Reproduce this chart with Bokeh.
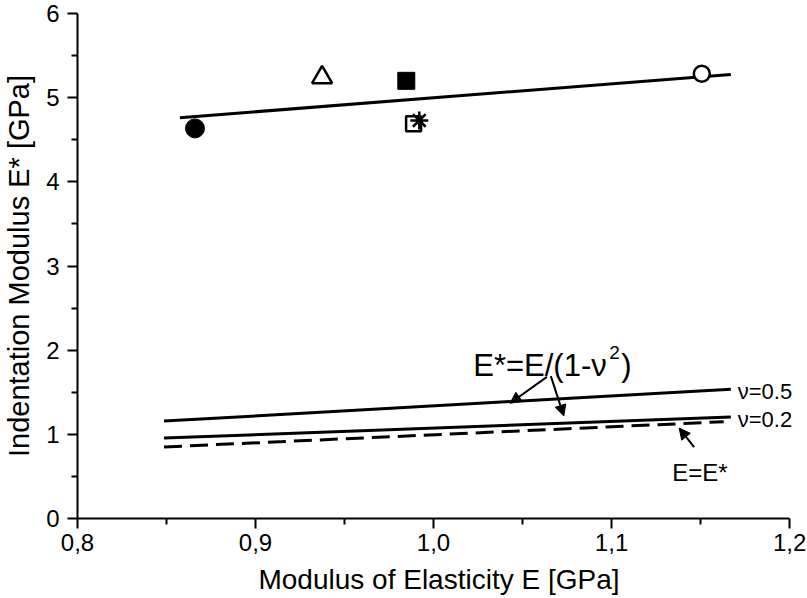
from bokeh.plotting import figure
from bokeh.models import (Range1d, FixedTicker, CustomJSTickFormatter,
                          Arrow, NormalHead, Label)
from bokeh.embed import file_html
from bokeh.resources import INLINE

# ---- data ----
point_E = [0.866, 0.9374, 0.9847, 0.9888, 0.992, 1.1507]
point_Estar = [4.635, 5.24, 5.20, 4.69, 4.73, 5.284]
point_marker = ["circle", "triangle", "square", "square", "asterisk", "circle"]
point_filled = [True, False, True, False, False, False]
point_size = [19, 20, 17, 15, 18, 16]

fit_E = [0.8575, 1.167]
fit_Estar = [4.762, 5.276]

nu05_E = [0.8486, 1.167]
nu05_Estar = [1.157, 1.537]
nu02_E = [0.8486, 1.167]
nu02_Estar = [0.955, 1.205]
eq_E = [0.8486, 1.163]
eq_Estar = [0.850, 1.150]

x_ticks = [0.8, 0.9, 1.0, 1.1, 1.2]
x_minor = [0.85, 0.95, 1.05, 1.15]
y_ticks = [0, 1, 2, 3, 4, 5, 6]
y_minor = [0.5, 1.5, 2.5, 3.5, 4.5, 5.5]

x_label = "Modulus of Elasticity E [GPa]"
y_label = "Indentation Modulus E* [GPa]"

FONT = "Liberation Sans"

# frame extends a little past 1.2 so the right-hand labels fit;
# the x axis line itself stops at 1.2 via axis bounds
FRAME_RIGHT = 800
x_end = 0.8 + 0.4 * (FRAME_RIGHT - 73) / 716.0

p = figure(width=807, height=598, output_backend="svg", toolbar_location=None,
           x_range=Range1d(0.8, x_end), y_range=Range1d(0, 6),
           min_border_left=73, min_border_right=807 - FRAME_RIGHT,
           min_border_top=13, min_border_bottom=80)
p.outline_line_color = None
p.xgrid.visible = False
p.ygrid.visible = False
p.background_fill_color = "white"
p.border_fill_color = "white"

p.xaxis.ticker = FixedTicker(ticks=x_ticks, minor_ticks=x_minor)
p.yaxis.ticker = FixedTicker(ticks=y_ticks, minor_ticks=y_minor)
p.xaxis.formatter = CustomJSTickFormatter(code="return tick.toFixed(1).replace('.', ',');")
p.yaxis.formatter = CustomJSTickFormatter(code="return tick.toFixed(0);")
p.xaxis.bounds = (0.8, 1.2)
p.yaxis.bounds = (0, 6)

for ax in (p.xaxis[0], p.yaxis[0]):
    ax.axis_line_width = 2
    ax.axis_line_color = "black"
    ax.major_tick_line_width = 2
    ax.minor_tick_line_width = 2
    ax.major_tick_line_color = "black"
    ax.minor_tick_line_color = "black"
    ax.major_tick_out = 10
    ax.major_tick_in = 0
    ax.minor_tick_out = 6
    ax.minor_tick_in = 0
    ax.major_label_text_font = FONT
    ax.major_label_text_font_size = "24px"
    ax.major_label_text_color = "black"
    ax.axis_label_text_font = FONT
    ax.axis_label_text_font_style = "normal"
    ax.axis_label_text_color = "black"

p.xaxis.axis_label = x_label
p.yaxis.axis_label = y_label
p.xaxis.axis_label_text_font_size = "28px"
p.yaxis.axis_label_text_font_size = "29px"
p.xaxis.major_label_standoff = 5
p.xaxis.axis_label_standoff = 10
p.yaxis.major_label_standoff = 8
p.yaxis.axis_label_standoff = 8

# regression line and theoretical lines
p.line(fit_E, fit_Estar, line_color="black", line_width=3)
p.line(nu05_E, nu05_Estar, line_color="black", line_width=3)
p.line(nu02_E, nu02_Estar, line_color="black", line_width=3)
p.line(eq_E, eq_Estar, line_color="black", line_width=3, line_dash="18 8")

# data points
for e, es, m, f, s in zip(point_E, point_Estar, point_marker, point_filled, point_size):
    p.scatter([e], [es], marker=m, size=s, line_color="black",
              fill_color="black" if f else "white",
              line_width=1 if f else 2.5)

# annotations
def lab(x, y, t, size="22px", x_offset=0, y_offset=0):
    p.add_layout(Label(x=x, y=y, text=t, text_font=FONT, text_font_size=size,
                       text_color="black", text_baseline="alphabetic",
                       text_align="left", x_offset=x_offset, y_offset=y_offset))

# formula with a raised superscript
lab(1.0223, 1.822, "E*=E/(1-ν", size="31px")
lab(1.0223, 1.822, "2", size="19px", x_offset=136, y_offset=13)
lab(1.0223, 1.822, ")", size="31px", x_offset=148)

lab(1.1709, 1.513, "ν=0.5")
lab(1.1709, 1.181, "ν=0.2")
lab(1.1341, 0.552, "E=E*", size="24px")

def arrow(xs, ys, xe, ye):
    p.add_layout(Arrow(end=NormalHead(size=11, fill_color="black", line_color="black"),
                       x_start=xs, y_start=ys, x_end=xe, y_end=ye,
                       line_width=2, line_color="black"))

arrow(1.0637, 1.682, 1.043, 1.37)
arrow(1.0659, 1.691, 1.0732, 1.217)
arrow(1.1464, 0.849, 1.138, 1.074)

open("out.html", "w").write(file_html(p, INLINE))
